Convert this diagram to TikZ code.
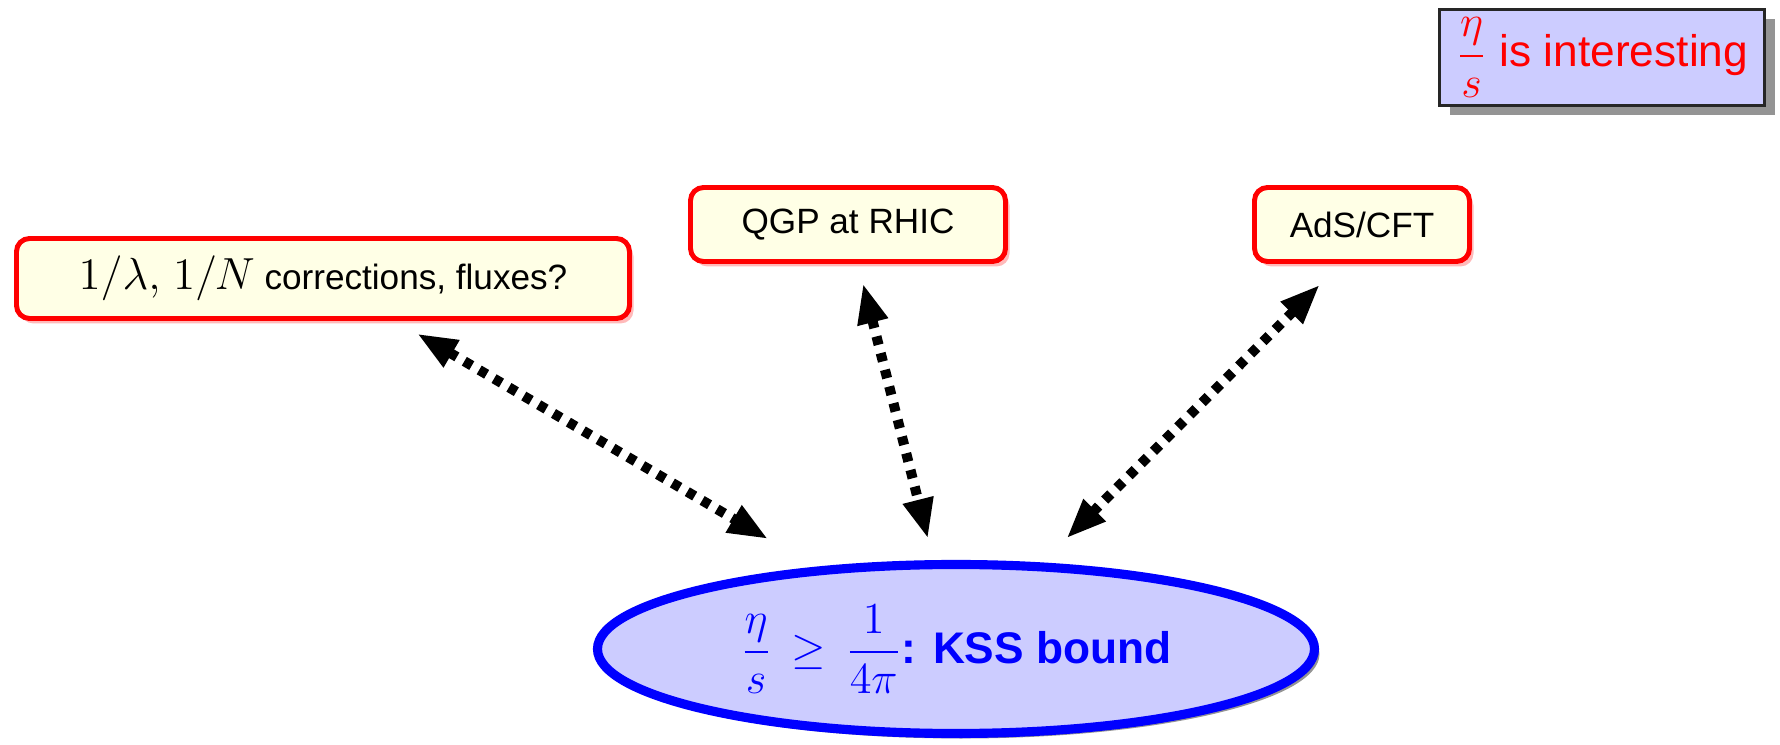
\RequirePackage{fix-cm}
\documentclass[tikz,border=0pt]{standalone}
\usepackage{amsmath}
\usepackage[no-math]{fontspec}
\setsansfont{Liberation Sans}
\usetikzlibrary{shapes.geometric,shadows,arrows.meta}

\definecolor{topicfill}{RGB}{255,255,230}
\definecolor{boundfill}{RGB}{204,204,255}

\tikzset{
    topic/.style={draw=red, line width=1.4pt, fill=topicfill, rounded corners=0.13cm,
        minimum height=0.74cm, inner sep=0pt,
        font=\sffamily\fontsize{10}{12}\selectfont,
        drop shadow={shadow xshift=0.04cm, shadow yshift=-0.05cm, fill=red!60, opacity=0.45}},
    link/.style={line width=2.85pt, dash pattern=on 2.45pt off 2.45pt,
        {Triangle[length=11.4pt,width=8.2pt]}-{Triangle[length=11.4pt,width=8.2pt]}}
}

\begin{document}
\begin{tikzpicture}
        \useasboundingbox (0,0) rectangle (17.8,-7.45);

        % caixa do canto
        \node[draw=black!85, line width=0.8pt, fill=boundfill, inner sep=0pt,
            minimum width=3.25cm, minimum height=0.96cm, text=red,
            font=\sffamily\fontsize{12.6}{15}\selectfont,
            drop shadow={shadow xshift=0.1cm, shadow yshift=-0.1cm, fill=black!70, opacity=0.6}]
            (note) at (16.02,-0.575) {$\dfrac{\eta}{s}$ is interesting};

        % temas
        \node[topic, minimum width=6.13cm, minimum height=0.80cm] (corr) at (3.23,-2.785)
            {{\fontsize{12.8}{14}\selectfont$1/\lambda,$ $1/N$} corrections, fluxes?};
        \node[topic, minimum width=3.15cm] (qgp) at (8.48,-2.245) {QGP at RHIC};
        \node[topic, minimum width=2.15cm] (ads) at (13.62,-2.245) {AdS/CFT};

        % limite KSS
        \node[ellipse, draw=blue, line width=2.6pt, fill=boundfill, inner sep=0pt,
            minimum width=7.17cm, minimum height=1.69cm, text=blue,
            font=\sffamily\fontsize{12.6}{15}\selectfont,
            drop shadow={shadow xshift=0.05cm, shadow yshift=-0.05cm, fill=black!70, opacity=0.6}]
            (kss) at (9.56,-6.49)
            {$\dfrac{\eta}{s} \mskip3mu\geq\mskip3mu \dfrac{1}{4\pi}$\textbf{: KSS bound}};

        % setas
        \draw[link, shorten <=0.25cm, shorten >=0.55cm] (corr) -- (kss);
        \draw[link, shorten <=0.2cm, shorten >=0.22cm] (qgp) -- (kss);
        \draw[link, shorten <=0.85cm, shorten >=0.34cm] ([xshift=0.18cm]ads.center) -- (kss);
\end{tikzpicture}
\end{document}
